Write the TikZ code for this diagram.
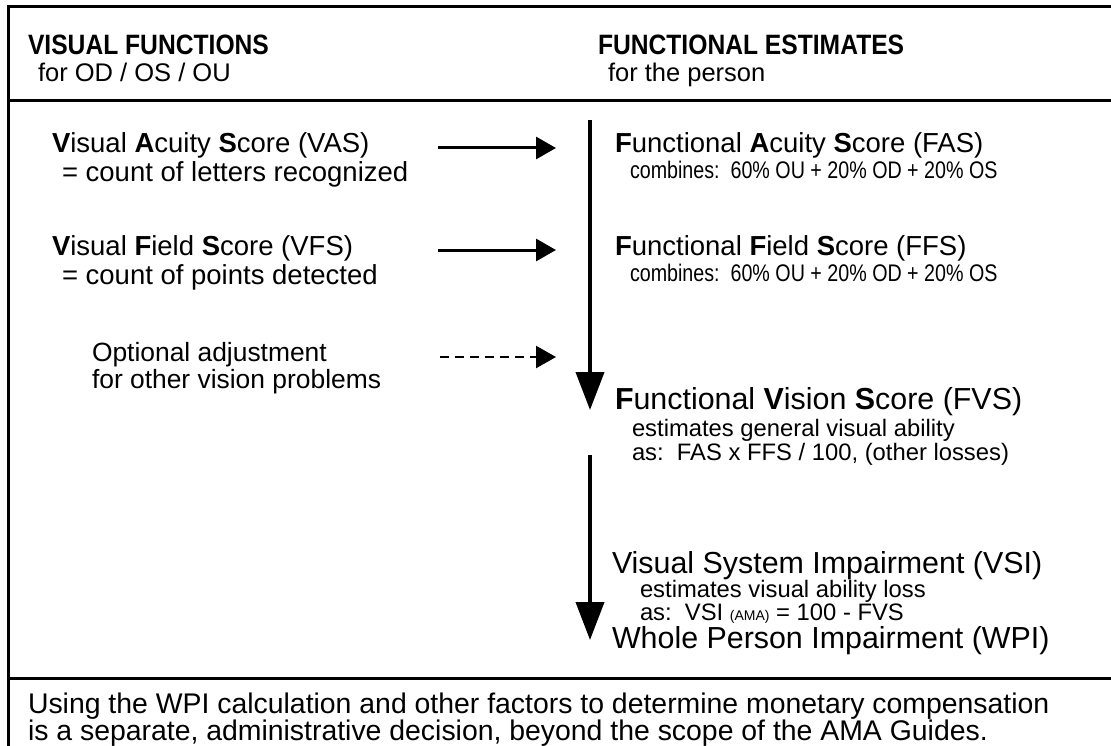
\documentclass[tikz,border=0pt]{standalone}
\usepackage{fontspec}
\setmainfont{Liberation Sans}
\newfontfamily\narrow[FakeStretch=0.88]{Liberation Sans}
\newfontfamily\cond[FakeStretch=0.82]{Liberation Sans}
\usetikzlibrary{arrows.meta}
\begin{document}
\begin{tikzpicture}[x=1pt,y=-1pt,
  txt/.style={anchor=base west,inner sep=0pt,outer sep=0pt},
  big/.style={txt,font=\fontsize{27.5}{30}\selectfont},
  sub/.style={txt,font=\fontsize{25.5}{28}\selectfont},
  opt/.style={txt,font=\fontsize{26.4}{28}\selectfont},
  lbl/.style={txt,font=\fontsize{30.4}{32}\selectfont},
  head/.style={txt,font=\narrow\bfseries\fontsize{28}{30}\selectfont},
  small/.style={txt,font=\fontsize{23.8}{26}\selectfont},
  comb/.style={txt,font=\cond\fontsize{24}{26}\selectfont},
  note/.style={txt,font=\fontsize{28.4}{30}\selectfont},
  frame/.style={line width=3pt},
  harrow/.style={line width=3pt,-{Triangle[length=20pt,width=22pt]}},
  varrow/.style={line width=4pt,-{Triangle[length=38pt,width=28pt]}}]
\useasboundingbox (0,0) rectangle (1111,746);
% frame
\draw[frame] (1111,7) -- (8,7) -- (8,746);
\draw[frame] (8,101) -- (1111,101);
\draw[frame] (8,678) -- (1111,678);
% headers
\node[head] (h1) at (28,55) {VISUAL FUNCTIONS};
\node[sub] (h1b) at (38,82) {for OD / OS / OU};
\node[head] (h2) at (598,55) {FUNCTIONAL ESTIMATES};
\node[sub] (h2b) at (608,82) {for the person};
% left column
\node[big] (vas) at (52,153) {\textbf{V}isual \textbf{A}cuity \textbf{S}core (VAS)};
\node[big] (vasd) at (62,182) {= count of letters recognized};
\node[big] (vfs) at (52,255) {\textbf{V}isual \textbf{F}ield \textbf{S}core (VFS)};
\node[big] (vfsd) at (62,284) {= count of points detected};
\node[opt] (opt) at (92,361) {Optional adjustment};
\node[opt] (optb) at (92,388) {for other vision problems};
% right column
\node[big] (fas) at (615,153) {\textbf{F}unctional \textbf{A}cuity \textbf{S}core (FAS)};
\node[comb] (fasd) at (630,179) {combines:\ \ 60\% OU + 20\% OD + 20\% OS};
\node[big] (ffs) at (615,255) {\textbf{F}unctional \textbf{F}ield \textbf{S}core (FFS)};
\node[comb] (ffsd) at (630,281) {combines:\ \ 60\% OU + 20\% OD + 20\% OS};
\node[lbl] (fvs) at (615,409) {\textbf{F}unctional \textbf{V}ision \textbf{S}core (FVS)};
\node[small] (fvsd) at (632,436) {estimates general visual ability};
\node[small] (fvse) at (632,460) {as:\ \ FAS x FFS / 100, (other losses)};
\node[lbl] (vsi) at (612,573) {Visual System Impairment (VSI)};
\node[small] (vsid) at (640,597) {estimates visual ability loss};
\node[small] (vsie) at (640,620) {as:\ \ VSI {\fontsize{14}{16}\selectfont(AMA)} = 100 - FVS};
\node[lbl] (wpi) at (612,648) {Whole Person Impairment (WPI)};
% bottom note
\node[note] (n1) at (28,713) {Using the WPI calculation and other factors to determine monetary compensation};
\node[note] (n2) at (28,740) {is a separate, administrative decision, beyond the scope of the AMA Guides.};
% arrows
\coordinate (a1s) at (438,148); \coordinate (a1e) at (556,148);
\coordinate (a2s) at (438,250); \coordinate (a2e) at (556,250);
\coordinate (a3s) at (440,357); \coordinate (a3e) at (556,357);
\coordinate (v1s) at (590,120); \coordinate (v1e) at (590,410);
\coordinate (v2s) at (590,455); \coordinate (v2e) at (590,640);
\draw[harrow] (a1s) -- (a1e);
\draw[harrow] (a2s) -- (a2e);
\draw[harrow,line width=2.5pt,dash pattern=on 9pt off 6pt] (a3s) -- (a3e);
\draw[varrow] (v1s) -- (v1e);
\draw[varrow] (v2s) -- (v2e);
\end{tikzpicture}
\end{document}
